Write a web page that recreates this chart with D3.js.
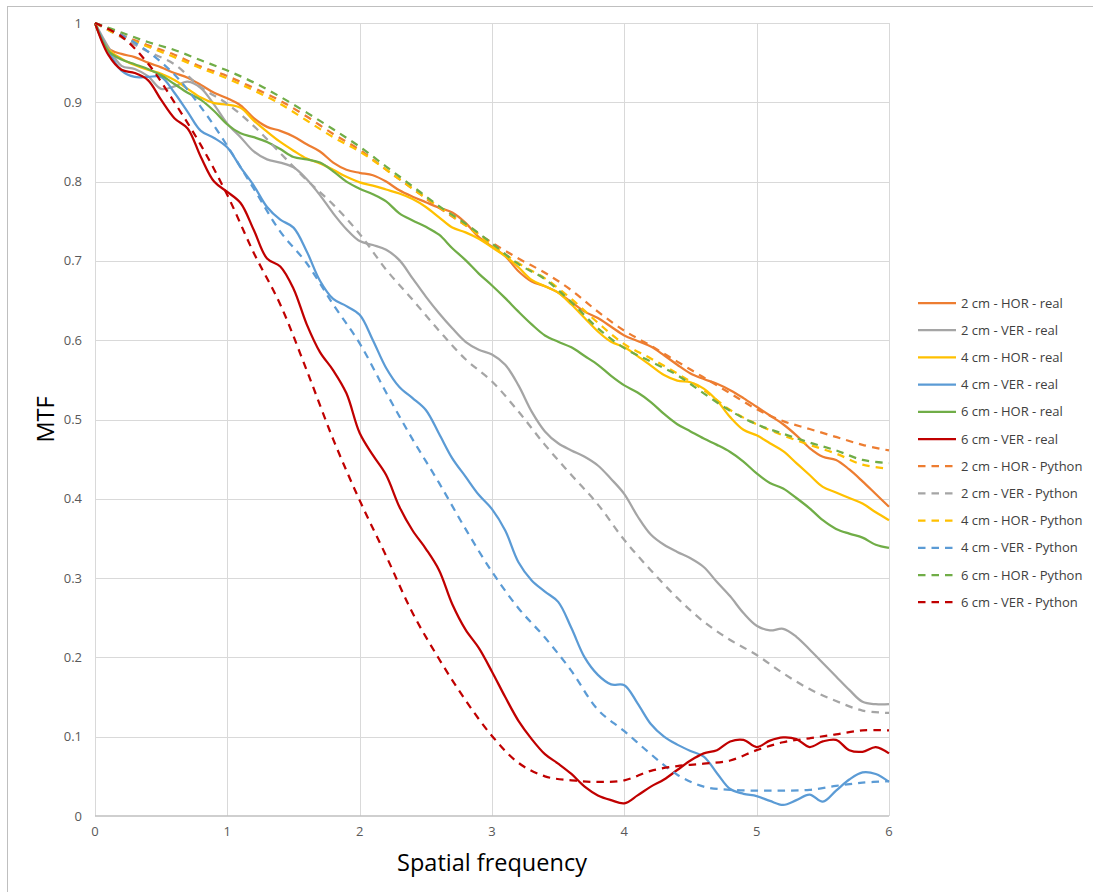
<!DOCTYPE html>
<html>
<head>
<meta charset="utf-8">
<script src="https://cdn.jsdelivr.net/npm/d3@7"></script>
<style>
  body { margin: 0; background: #fff; }
  svg { display: block; font-family: "Open Sans", "Liberation Sans", sans-serif; }
  .grid line { stroke: #d9d9d9; stroke-width: 1; }
  .tick-label { fill: #595959; font-size: 13px; }
  .legend-text { fill: #404040; font-size: 13px; }
</style>
</head>
<body>
<div id="chart"></div>
<script>
// frequency samples
const freqReal = [0,0.1,0.2,0.3,0.4,0.5,0.6,0.7,0.8,0.9,1,1.1,1.2,1.3,1.4,1.5,1.6,1.7,1.8,1.9,2,
  2.1,2.2,2.3,2.4,2.5,2.6,2.7,2.8,2.9,3,3.1,3.2,3.3,3.4,3.5,3.6,3.7,3.8,3.9,4,
  4.1,4.2,4.3,4.4,4.5,4.6,4.7,4.8,4.9,5,5.1,5.2,5.3,5.4,5.5,5.6,5.7,5.8,5.9,6];
const freqPython = [0,0.2,0.4,0.6,0.8,1,1.2,1.4,1.6,1.8,2,2.2,2.4,2.6,2.8,3,
  3.2,3.4,3.6,3.8,4,4.2,4.4,4.6,4.8,5,5.2,5.4,5.6,5.8,6];

const xTicks = [0, 1, 2, 3, 4, 5, 6];
const yTicks = [0, 0.1, 0.2, 0.3, 0.4, 0.5, 0.6, 0.7, 0.8, 0.9, 1];

// measured curves
const hor2Real = [1,0.968,0.961,0.957,0.95,0.944,0.937,0.931,0.922,0.912,0.905,0.896,0.88,0.869,0.864,0.857,0.847,0.838,0.824,0.815,0.811,
  0.808,0.8,0.789,0.781,0.774,0.767,0.761,0.748,0.73,0.718,0.706,0.687,0.674,0.668,0.66,0.648,0.636,0.628,0.617,0.606,
  0.599,0.592,0.581,0.569,0.558,0.551,0.545,0.537,0.527,0.516,0.505,0.494,0.48,0.464,0.453,0.449,0.437,0.422,0.406,0.39];
const ver2Real = [1,0.97,0.946,0.942,0.933,0.917,0.92,0.926,0.918,0.897,0.873,0.856,0.838,0.828,0.824,0.818,0.803,0.783,0.76,0.74,0.725,
  0.72,0.714,0.701,0.678,0.655,0.634,0.615,0.598,0.588,0.582,0.569,0.543,0.51,0.485,0.47,0.461,0.453,0.442,0.425,0.406,
  0.378,0.355,0.342,0.333,0.325,0.314,0.295,0.277,0.256,0.24,0.234,0.236,0.226,0.21,0.193,0.176,0.159,0.144,0.141,0.141];
const hor4Real = [1,0.967,0.955,0.947,0.941,0.936,0.928,0.917,0.906,0.899,0.897,0.893,0.877,0.863,0.85,0.839,0.829,0.823,0.815,0.806,0.799,
  0.795,0.79,0.785,0.778,0.768,0.755,0.742,0.736,0.728,0.717,0.706,0.692,0.676,0.668,0.66,0.645,0.628,0.611,0.598,0.591,
  0.58,0.568,0.556,0.549,0.547,0.539,0.524,0.503,0.487,0.48,0.47,0.46,0.445,0.43,0.415,0.408,0.401,0.394,0.383,0.373];
const ver4Real = [1,0.965,0.94,0.932,0.932,0.932,0.912,0.888,0.864,0.855,0.843,0.818,0.795,0.768,0.752,0.742,0.712,0.675,0.652,0.643,0.632,
  0.6,0.565,0.541,0.527,0.512,0.482,0.451,0.428,0.405,0.387,0.36,0.32,0.297,0.283,0.27,0.237,0.2,0.178,0.166,0.165,
  0.142,0.116,0.1,0.09,0.082,0.075,0.054,0.034,0.028,0.025,0.019,0.014,0.02,0.027,0.018,0.032,0.046,0.055,0.053,0.043];
const hor6Real = [1,0.965,0.954,0.948,0.942,0.934,0.923,0.912,0.903,0.889,0.872,0.861,0.856,0.85,0.841,0.831,0.828,0.824,0.813,0.8,0.791,
  0.784,0.775,0.76,0.751,0.743,0.733,0.716,0.701,0.684,0.669,0.653,0.636,0.62,0.606,0.598,0.591,0.58,0.569,0.555,0.543,
  0.534,0.522,0.507,0.494,0.485,0.476,0.468,0.459,0.447,0.432,0.42,0.413,0.401,0.388,0.373,0.362,0.356,0.351,0.342,0.338];
const ver6Real = [1,0.96,0.941,0.937,0.928,0.903,0.88,0.867,0.831,0.8,0.787,0.773,0.739,0.703,0.693,0.665,0.62,0.585,0.562,0.533,0.483,
  0.455,0.43,0.39,0.36,0.337,0.31,0.267,0.235,0.212,0.182,0.15,0.12,0.097,0.078,0.066,0.053,0.037,0.026,0.02,0.016,
  0.026,0.037,0.046,0.058,0.07,0.079,0.083,0.094,0.096,0.087,0.095,0.099,0.097,0.087,0.094,0.096,0.083,0.081,0.087,0.079];

// simulated curves
const hor2Python = [1,0.985,0.972,0.96,0.945,0.933,0.918,0.902,0.882,0.86,0.84,0.815,0.791,0.767,0.745,0.723,
  0.703,0.685,0.663,0.636,0.612,0.593,0.573,0.553,0.533,0.513,0.498,0.488,0.478,0.468,0.461];
const ver2Python = [1,0.982,0.964,0.948,0.919,0.898,0.87,0.836,0.802,0.771,0.734,0.689,0.651,0.612,0.576,0.548,
  0.51,0.468,0.43,0.393,0.348,0.31,0.275,0.245,0.222,0.203,0.18,0.16,0.145,0.133,0.13];
const hor4Python = [1,0.983,0.97,0.957,0.943,0.93,0.915,0.898,0.877,0.856,0.838,0.815,0.791,0.768,0.745,0.72,
  0.697,0.678,0.652,0.622,0.595,0.577,0.558,0.537,0.512,0.494,0.48,0.468,0.457,0.443,0.438];
const ver4Python = [1,0.985,0.964,0.935,0.894,0.845,0.791,0.737,0.697,0.645,0.596,0.534,0.475,0.42,0.362,0.308,
  0.262,0.225,0.183,0.134,0.107,0.078,0.052,0.037,0.033,0.032,0.032,0.033,0.038,0.042,0.044];
const hor6Python = [1,0.988,0.976,0.966,0.953,0.94,0.925,0.907,0.887,0.866,0.844,0.819,0.794,0.769,0.747,0.722,
  0.696,0.677,0.648,0.615,0.59,0.573,0.556,0.533,0.511,0.494,0.482,0.471,0.461,0.449,0.445];
const ver6Python = [1,0.983,0.949,0.9,0.846,0.783,0.71,0.645,0.562,0.475,0.398,0.328,0.256,0.198,0.146,0.101,
  0.067,0.05,0.045,0.043,0.045,0.057,0.063,0.066,0.07,0.083,0.093,0.098,0.103,0.108,0.108];

const seriesNames = [
  "2 cm - HOR - real", "2 cm - VER - real", "4 cm - HOR - real", "4 cm - VER - real",
  "6 cm - HOR - real", "6 cm - VER - real",
  "2 cm - HOR - Python", "2 cm - VER - Python", "4 cm - HOR - Python", "4 cm - VER - Python",
  "6 cm - HOR - Python", "6 cm - VER - Python"
];
const seriesColors = ["#ED7D31", "#A5A5A5", "#FFC000", "#5B9BD5", "#70AD47", "#C00000"];

const series = [
  {x: freqReal, y: hor2Real}, {x: freqReal, y: ver2Real}, {x: freqReal, y: hor4Real},
  {x: freqReal, y: ver4Real}, {x: freqReal, y: hor6Real}, {x: freqReal, y: ver6Real},
  {x: freqPython, y: hor2Python}, {x: freqPython, y: ver2Python}, {x: freqPython, y: hor4Python},
  {x: freqPython, y: ver4Python}, {x: freqPython, y: hor6Python}, {x: freqPython, y: ver6Python}
].map((s, i) => ({
  name: seriesNames[i],
  color: seriesColors[i % 6],
  dashed: i >= 6,
  points: s.x.map((f, j) => [f, s.y[j]])
}));

const W = 1093, H = 892;
const plot = {left: 95, right: 889, top: 23, bottom: 816};

const svg = d3.select('#chart')
  .append('svg')
  .attr('width', W)
  .attr('height', H);

// chart frame
svg.append('rect')
  .attr('x', 7.5).attr('y', 6.5)
  .attr('width', W).attr('height', H - 4)
  .attr('fill', 'none')
  .attr('stroke', '#bfbfbf');

const x = d3.scaleLinear().domain([0, 6]).range([plot.left, plot.right]);
const y = d3.scaleLinear().domain([0, 1]).range([plot.bottom, plot.top]);

// gridlines
const grid = svg.append('g').attr('class', 'grid');
grid.selectAll('line.h')
  .data(yTicks.filter(d => d > 0))
  .enter().append('line')
  .attr('x1', plot.left).attr('x2', plot.right)
  .attr('y1', d => Math.round(y(d)) + 0.5).attr('y2', d => Math.round(y(d)) + 0.5);
grid.selectAll('line.v')
  .data(xTicks)
  .enter().append('line')
  .attr('y1', plot.top).attr('y2', plot.bottom)
  .attr('x1', d => Math.round(x(d)) + 0.5).attr('x2', d => Math.round(x(d)) + 0.5);

// x axis baseline
svg.append('line')
  .attr('x1', plot.left).attr('x2', plot.right)
  .attr('y1', y(0)).attr('y2', y(0))
  .attr('stroke', '#bfbfbf').attr('stroke-width', 1.5);

// tick labels
svg.selectAll('text.ytick')
  .data(yTicks)
  .enter().append('text')
  .attr('class', 'tick-label')
  .attr('x', plot.left - 13)
  .attr('y', d => y(d) + 4.5)
  .attr('text-anchor', 'end')
  .text(d => d3.format('~g')(d));

svg.selectAll('text.xtick')
  .data(xTicks)
  .enter().append('text')
  .attr('class', 'tick-label')
  .attr('x', d => x(d))
  .attr('y', plot.bottom + 20)
  .attr('text-anchor', 'middle')
  .text(d => d);

// axis titles
svg.append('text')
  .attr('x', (plot.left + plot.right) / 2)
  .attr('y', 871)
  .attr('text-anchor', 'middle')
  .style('font-size', '23.5px')
  .attr('fill', '#000')
  .text('Spatial frequency');

svg.append('text')
  .attr('transform', 'translate(54,' + ((plot.top + plot.bottom) / 2) + ') rotate(-90)')
  .attr('text-anchor', 'middle')
  .style('font-size', '23.5px')
  .attr('fill', '#000')
  .text('MTF');

// curves
const line = d3.line()
  .x(d => x(d[0]))
  .y(d => y(d[1]))
  .curve(d3.curveCatmullRom.alpha(0.5));

svg.append('g')
  .selectAll('path')
  .data(series)
  .enter().append('path')
  .attr('d', d => line(d.points))
  .attr('fill', 'none')
  .attr('stroke', d => d.color)
  .attr('stroke-width', 2.25)
  .attr('stroke-dasharray', d => d.dashed ? '7.5,6' : null)
  .attr('stroke-linejoin', 'round');

// legend
const LEGEND_X = 918;
const LEGEND_Y = 303;
const LEGEND_ROW = 27.2;

const legendItem = svg.append('g')
  .selectAll('g')
  .data(series)
  .enter().append('g')
  .attr('transform', (d, i) => 'translate(' + LEGEND_X + ',' + (LEGEND_Y + i * LEGEND_ROW) + ')');

legendItem.append('line')
  .attr('x1', 0).attr('x2', 38)
  .attr('y1', 0).attr('y2', 0)
  .attr('stroke', d => d.color)
  .attr('stroke-width', 2.25)
  .attr('stroke-dasharray', d => d.dashed ? '7.5,6' : null);

legendItem.append('text')
  .attr('class', 'legend-text')
  .attr('x', 43)
  .attr('y', 4.5)
  .text(d => d.name);
</script>
</body>
</html>
